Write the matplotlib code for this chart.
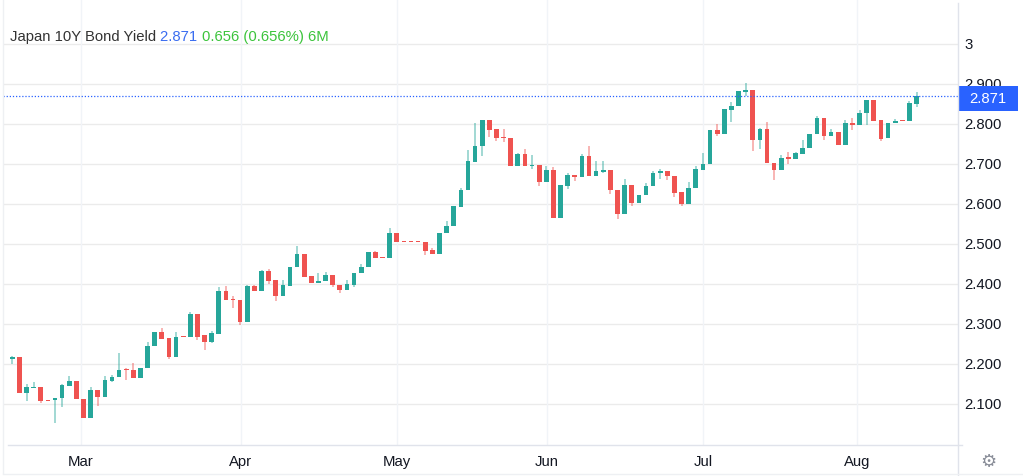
import matplotlib
matplotlib.use('Agg')
import matplotlib.pyplot as plt
from matplotlib.patches import Rectangle
from matplotlib.lines import Line2D

# ---------------- data (daily OHLC, Japan 10Y bond yield) ----------------
opens = [2.213, 2.217, 2.127, 2.140, 2.142, 2.109, 2.109, 2.114, 2.146, 2.157,
         2.112, 2.064, 2.135, 2.118, 2.158, 2.167, 2.187, 2.186, 2.165, 2.189,
         2.246, 2.281, 2.264, 2.217, 2.268, 2.267, 2.324, 2.272, 2.254, 2.275,
         2.383, 2.362, 2.361, 2.304, 2.396, 2.383, 2.433, 2.410, 2.371, 2.396,
         2.442, 2.475, 2.419, 2.403, 2.407, 2.422, 2.398, 2.385, 2.398, 2.428,
         2.442, 2.479, 2.466, 2.465, 2.527, 2.505, 2.505, 2.505, 2.505, 2.484,
         2.474, 2.527, 2.546, 2.592, 2.635, 2.704, 2.744, 2.811, 2.788, 2.767,
         2.765, 2.694, 2.726, 2.694, 2.698, 2.654, 2.686, 2.565, 2.644, 2.673,
         2.668, 2.721, 2.669, 2.680, 2.684, 2.636, 2.575, 2.648, 2.6025, 2.623,
         2.646, 2.678, 2.682, 2.670, 2.629, 2.600, 2.640, 2.686, 2.700, 2.786,
         2.776, 2.836, 2.845, 2.880, 2.884, 2.761, 2.7875, 2.7025, 2.684, 2.717,
         2.713, 2.726, 2.740, 2.775, 2.815, 2.769, 2.780, 2.748, 2.8025, 2.797,
         2.8275, 2.859, 2.809, 2.764, 2.802, 2.809, 2.807, 2.851]
highs = [2.219, 2.217, 2.150, 2.154, 2.142, 2.109, 2.115, 2.150, 2.169, 2.157,
         2.112, 2.142, 2.135, 2.171, 2.172, 2.228, 2.189, 2.203, 2.190, 2.256,
         2.281, 2.289, 2.264, 2.281, 2.268, 2.329, 2.324, 2.272, 2.282, 2.393,
         2.396, 2.371, 2.361, 2.398, 2.398, 2.436, 2.437, 2.410, 2.410, 2.442,
         2.494, 2.475, 2.419, 2.428, 2.430, 2.422, 2.398, 2.410, 2.428, 2.450,
         2.479, 2.483, 2.466, 2.539, 2.527, 2.505, 2.505, 2.505, 2.505, 2.491,
         2.527, 2.557, 2.594, 2.639, 2.735, 2.8025, 2.811, 2.811, 2.788, 2.7875,
         2.765, 2.728, 2.738, 2.723, 2.698, 2.696, 2.692, 2.647, 2.677, 2.673,
         2.726, 2.744, 2.707, 2.707, 2.684, 2.636, 2.6625, 2.648, 2.623, 2.6525,
         2.682, 2.688, 2.682, 2.670, 2.629, 2.654, 2.694, 2.7275, 2.786, 2.800,
         2.8375, 2.855, 2.882, 2.9025, 2.884, 2.790, 2.805, 2.7025, 2.723, 2.730,
         2.731, 2.761, 2.775, 2.819, 2.815, 2.788, 2.780, 2.809, 2.815, 2.834,
         2.859, 2.859, 2.809, 2.8025, 2.813, 2.809, 2.857, 2.880]
lows = [2.200, 2.127, 2.108, 2.140, 2.103, 2.107, 2.052, 2.093, 2.146, 2.112,
        2.064, 2.064, 2.096, 2.118, 2.155, 2.167, 2.161, 2.165, 2.165, 2.189,
        2.246, 2.263, 2.212, 2.217, 2.267, 2.267, 2.260, 2.235, 2.252, 2.275,
        2.360, 2.339, 2.2975, 2.304, 2.383, 2.383, 2.400, 2.358, 2.371, 2.396,
        2.442, 2.417, 2.403, 2.403, 2.407, 2.393, 2.378, 2.385, 2.393, 2.428,
        2.442, 2.465, 2.465, 2.465, 2.504, 2.504, 2.504, 2.504, 2.473, 2.474,
        2.474, 2.527, 2.546, 2.592, 2.635, 2.704, 2.719, 2.767, 2.757, 2.754,
        2.694, 2.694, 2.694, 2.6875, 2.644, 2.654, 2.565, 2.565, 2.638, 2.658,
        2.668, 2.669, 2.669, 2.677, 2.625, 2.5625, 2.575, 2.596, 2.6025, 2.623,
        2.646, 2.6625, 2.661, 2.6175, 2.596, 2.600, 2.640, 2.686, 2.700, 2.771,
        2.776, 2.805, 2.845, 2.871, 2.732, 2.738, 2.7025, 2.659, 2.684, 2.700,
        2.713, 2.726, 2.740, 2.775, 2.759, 2.769, 2.748, 2.748, 2.784, 2.797,
        2.797, 2.808, 2.757, 2.764, 2.802, 2.808, 2.807, 2.842]
closes = [2.217, 2.127, 2.142, 2.142, 2.108, 2.108, 2.114, 2.147, 2.157, 2.112,
          2.064, 2.135, 2.118, 2.159, 2.167, 2.186, 2.185, 2.165, 2.189, 2.246,
          2.281, 2.263, 2.217, 2.268, 2.267, 2.324, 2.268, 2.254, 2.277, 2.383,
          2.360, 2.360, 2.304, 2.396, 2.383, 2.433, 2.408, 2.371, 2.397, 2.442,
          2.475, 2.417, 2.403, 2.407, 2.422, 2.398, 2.385, 2.400, 2.428, 2.442,
          2.479, 2.465, 2.465, 2.527, 2.504, 2.504, 2.504, 2.504, 2.483, 2.474,
          2.527, 2.546, 2.594, 2.636, 2.708, 2.746, 2.811, 2.786, 2.765, 2.764,
          2.694, 2.726, 2.694, 2.698, 2.654, 2.686, 2.565, 2.647, 2.673, 2.668,
          2.721, 2.669, 2.682, 2.684, 2.636, 2.575, 2.648, 2.6025, 2.623, 2.646,
          2.678, 2.6817, 2.669, 2.6275, 2.600, 2.640, 2.6875, 2.701, 2.786, 2.776,
          2.8375, 2.846, 2.882, 2.884, 2.761, 2.7875, 2.7025, 2.684, 2.715, 2.713,
          2.7275, 2.740, 2.775, 2.815, 2.769, 2.780, 2.748, 2.8025, 2.797, 2.8275,
          2.859, 2.808, 2.7625, 2.8025, 2.808, 2.808, 2.8525, 2.871]

month_labels = ['Mar', 'Apr', 'May', 'Jun', 'Jul', 'Aug']
month_index = [9.6, 32.1, 54.0, 75.1, 97.0, 118.6]
y_ticks = [2.1, 2.2, 2.3, 2.4, 2.5, 2.6, 2.7, 2.8, 2.9, 3.0]
y_tick_labels = ['2.100', '2.200', '2.300', '2.400', '2.500', '2.600',
                 '2.700', '2.800', '2.900', '3']
title_name = 'Japan 10Y Bond Yield'
last_price = '2.871'
change_text = '0.656 (0.656%) 6M'

# ---------------- styling ----------------
W, H = 1023, 477
UP = '#26a69a'
DOWN = '#ef5350'
BLUE = '#2962ff'
FS = 10.7
FONT = ['Liberation Sans', 'DejaVu Sans']
plt.rcParams['font.family'] = FONT

fig = plt.figure(figsize=(W / 100, H / 100), dpi=100)
fig.patch.set_facecolor('white')

# main plot area: x 3..958 px, y 0..446 px
ax = fig.add_axes([3 / W, 31 / H, 955 / W, 446 / H])
x0, dx = 12.3, 7.12
ax.set_xlim((3 - x0) / dx, (958 - x0) / dx)
ylo, yhi = 1.9975, 3.1125
ax.set_ylim(ylo, yhi)
for s in ax.spines.values():
    s.set_visible(False)
ax.set_xticks([])
ax.set_yticks([])

for yv in y_ticks:
    ax.axhline(yv, color='#ebebeb', lw=1.0, zorder=0)
for mi in month_index:
    ax.axvline(mi, color='#f1f4f8', lw=1.0, zorder=0)

bw = 0.66
min_h = 0.0028
for i, (o, h, l, c) in enumerate(zip(opens, highs, lows, closes)):
    col = UP if c >= o else DOWN
    ax.vlines(i, l, h, color=col, lw=1.1, alpha=0.55, zorder=2)
    bot = min(o, c)
    ht = max(abs(c - o), min_h)
    ax.add_patch(Rectangle((i - bw / 2, bot), bw, ht, facecolor=col,
                           edgecolor='none', zorder=3))

last_val = float(last_price)
ax.axhline(last_val, color=BLUE, lw=0.9, ls=(0, (1, 1.5)), zorder=4)

# price scale area
ax2 = fig.add_axes([958 / W, 31 / H, 65 / W, 446 / H])
ax2.set_xlim(0, 65)
ax2.set_ylim(ylo, yhi)
ax2.axis('off')
for yv, lab in zip(y_ticks, y_tick_labels):
    ax2.text(6, yv, lab, ha='left', va='center', fontsize=FS, color='#131722')
box_c = last_val - 0.007
ax2.add_patch(Rectangle((0.3, box_c - 0.031), 60, 0.062, facecolor=BLUE,
                        edgecolor='none', zorder=5))
ax2.text(30, box_c, last_price, ha='center', va='center', fontsize=FS,
         color='white', zorder=6)

# frame lines
fig.add_artist(Line2D([958 / W, 958 / W], [0, 1 - 4 / H], color='#e0e3eb', lw=1))
fig.add_artist(Line2D([8 / W, 962 / W], [31 / H, 31 / H], color='#e0e3eb', lw=1))
fig.add_artist(Line2D([3 / W, 3 / W], [3 / H, 1], color='#eef0f3', lw=1))
fig.add_artist(Line2D([3 / W, 1], [2 / H, 2 / H], color='#eef0f3', lw=1))

# month labels
for mi, lab in zip(month_index, month_labels):
    px = x0 + mi * dx
    fig.text(px / W, 1 - 462 / H, lab, ha='center', va='center',
             fontsize=FS, color='#131722')

# gear icon
fig.text(988 / W, 1 - 462 / H, '\u2699', ha='center', va='center',
         fontsize=13, color='#8a8e99', family=['DejaVu Sans'])

# title line
t = fig.text(10 / W, 1 - 37 / H, title_name + ' ', ha='left', va='center',
             fontsize=FS, color='#333333')
fig.canvas.draw()
r = fig.canvas.get_renderer()
bb = t.get_window_extent(r)
t2 = fig.text(bb.x1 / W, 1 - 37 / H, last_price + ' ', ha='left', va='center',
              fontsize=FS, color='#3a6df0')
bb2 = t2.get_window_extent(r)
fig.text(bb2.x1 / W, 1 - 37 / H, change_text, ha='left', va='center',
         fontsize=FS, color='#3cc43c')

fig.savefig('out.png', dpi=100, facecolor='white')
